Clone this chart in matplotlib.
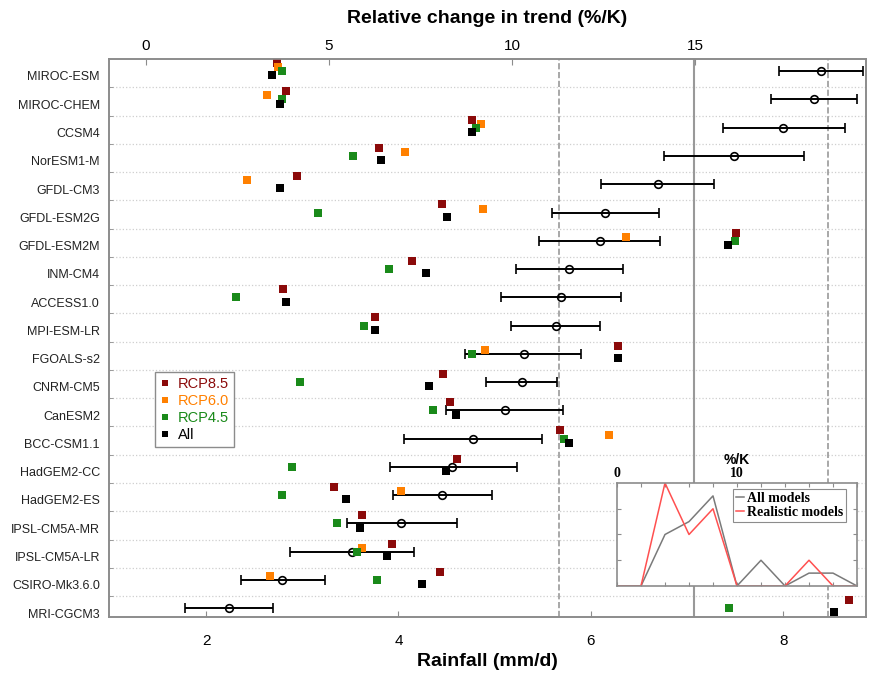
import numpy as np
import matplotlib
matplotlib.use('Agg')
import matplotlib.pyplot as plt
from matplotlib import font_manager

plt.rcParams['font.family'] = ['Liberation Sans', 'DejaVu Sans']

# 모델 이름 (위에서 아래로)
models = ['MIROC-ESM', 'MIROC-CHEM', 'CCSM4', 'NorESM1-M', 'GFDL-CM3',
          'GFDL-ESM2G', 'GFDL-ESM2M', 'INM-CM4', 'ACCESS1.0', 'MPI-ESM-LR',
          'FGOALS-s2', 'CNRM-CM5', 'CanESM2', 'BCC-CSM1.1', 'HadGEM2-CC',
          'HadGEM2-ES', 'IPSL-CM5A-MR', 'IPSL-CM5A-LR', 'CSIRO-Mk3.6.0', 'MRI-CGCM3']

nan = np.nan
# relative change in trend (%/K)
rcp85 = [3.57, 3.83, 8.92, 6.38, 4.13, 8.08, 16.13, 7.26, 3.74, 6.26,
         12.9, 8.11, 8.31, 11.3, 8.51, 5.14, 5.89, 6.71, 8.03, 19.21]
rcp60 = [3.6, 3.32, 9.14, 7.09, 2.75, 9.2, 13.11, nan, nan, nan,
         9.26, nan, nan, 12.64, nan, 6.97, nan, 5.89, 3.39, nan]
rcp45 = [3.72, 3.73, 9.03, 5.66, nan, 4.71, 16.1, 6.65, 2.47, 5.96,
         8.92, 4.21, 7.85, 11.41, 3.98, 3.73, 5.23, 5.77, 6.32, 15.94]
all_rcp = [3.44, 3.66, 8.92, 6.41, 3.67, 8.23, 15.91, 7.65, 3.83, 6.26,
           12.9, 7.74, 8.47, 11.57, 8.21, 5.46, 5.85, 6.58, 7.53, 18.81]

# rainfall (mm/d): mean and range
rain_mean = [8.39, 8.32, 8.00, 7.49, 6.70, 6.15, 6.09, 5.77, 5.69, 5.64,
             5.30, 5.28, 5.11, 4.77, 4.56, 4.45, 4.03, 3.52, 2.79, 2.24]
rain_low = [7.96, 7.87, 7.37, 6.76, 6.11, 5.60, 5.46, 5.22, 5.07, 5.17,
            4.69, 4.91, 4.49, 4.06, 3.91, 3.94, 3.46, 2.87, 2.36, 1.78]
rain_high = [8.83, 8.77, 8.64, 8.22, 7.28, 6.71, 6.72, 6.33, 6.31, 6.10,
             5.90, 5.65, 5.71, 5.49, 5.23, 4.97, 4.61, 4.16, 3.24, 2.70]

# observed rainfall (mean, lower, upper)
obs_mean = 7.07
obs_low = 5.67
obs_high = 8.47

# inset histogram (%/K)
hist_bins = [0, 2, 4, 6, 8, 10, 12, 14, 16, 18, 20]
hist_all = [0, 0, 4, 5, 7, 0, 2, 0, 1, 1, 0]
hist_real = [0, 0, 8, 4, 6, 0, 0, 0, 2, 0, 0]

c85 = '#8b0a0a'
c60 = '#ff8000'
c45 = '#1a8a1a'
spine_c = '#8c8c8c'

# 좁은 글꼴이 있으면 모델 이름에 사용
names = {f.name for f in font_manager.fontManager.ttflist}
label_font = 'Liberation Sans Narrow' if 'Liberation Sans Narrow' in names else 'Liberation Sans'
label_size = 11.5 if label_font == 'Liberation Sans Narrow' else 9

fig = plt.figure(figsize=(8.69, 6.73), dpi=100)
ax = fig.add_axes([0.1254, 0.0832, 0.8711, 0.8291])
ax2 = ax.twiny()

y = np.arange(len(models))

# 격자선 및 관측값 세로선
for b in y[:-1] + 0.5:
    ax.axhline(b, color='#cfcfcf', lw=0.9, ls=':', zorder=0)
ax.axvline(obs_low, color='#999999', lw=1.2, ls='--', zorder=1)
ax.axvline(obs_high, color='#999999', lw=1.2, ls='--', zorder=1)
ax.axvline(obs_mean, color='#999999', lw=1.5, zorder=1)

rm = np.array(rain_mean)
xerr = [rm - np.array(rain_low), np.array(rain_high) - rm]
ax.errorbar(rm, y - 0.07, xerr=xerr, fmt='o', color='k', mfc='none',
            ms=5.5, mew=1.2, elinewidth=1.4, capsize=3.6, capthick=1.4, zorder=3)

ax2.plot(rcp85, y - 0.36, 's', color=c85, ms=6, mew=0, label='RCP8.5')
ax2.plot(rcp60, y - 0.21, 's', color=c60, ms=6, mew=0, label='RCP6.0')
ax2.plot(rcp45, y - 0.07, 's', color=c45, ms=6, mew=0, label='RCP4.5')
ax2.plot(all_rcp, y + 0.08, 's', color='k', ms=6, mew=0, label='All')

ax.set_xlim(0.99, 8.86)
ax2.set_xlim(-1.01, 19.67)
ax.set_ylim(19.24, -0.5)

ax.set_xticks([2, 4, 6, 8])
ax2.set_xticks([0, 5, 10, 15])
ax.set_yticks(y + 0.1)
ax.set_yticklabels(models, fontsize=label_size, family=label_font, color='#222222')
ax.set_yticks(y[:-1] + 0.5, minor=True)
ax.tick_params(axis='y', which='major', length=0, pad=6.5)
ax.tick_params(axis='y', which='minor', direction='in', length=3, color=spine_c)
ax.tick_params(axis='x', direction='in', length=4, color=spine_c, labelsize=11, pad=12)
ax2.tick_params(axis='x', direction='in', length=4, color=spine_c, labelsize=11, pad=4)
ax.xaxis.set_minor_locator(plt.NullLocator())

for a in (ax, ax2):
    for s in a.spines.values():
        s.set_color(spine_c)
        s.set_linewidth(1.2)

ax.set_xlabel('Rainfall (mm/d)', fontsize=14, fontweight='bold', labelpad=4)
ax2.set_xlabel('Relative change in trend (%/K)', fontsize=14, fontweight='bold', labelpad=12)

leg = ax2.legend(loc='upper left', bbox_to_anchor=(0.061, 0.439), borderaxespad=0,
                 fontsize=10.5, handlelength=0.6, handletextpad=0.6, labelspacing=0.2,
                 markerscale=0.75, fancybox=False, framealpha=1, edgecolor=spine_c,
                 borderpad=0.35)
leg.get_frame().set_linewidth(1.0)
for txt, col in zip(leg.get_texts(), [c85, c60, c45, 'k']):
    txt.set_color(col)

# 삽입 그래프 (히스토그램)
axi = fig.add_axes([0.710, 0.1293, 0.2762, 0.1530])
axi.set_facecolor('white')
axi.plot(hist_bins, hist_all, color='#7a7a7a', lw=1.1, label='All models')
axi.plot(hist_bins, hist_real, color='#ff5050', lw=1.1, label='Realistic models')
axi.set_xlim(0, 20)
axi.set_ylim(0, 8)
axi.set_xticks(hist_bins)
axi.set_xticklabels(['0', '', '', '', '', '10', '', '', '', '', ''],
                    family='Liberation Serif', fontweight='bold', fontsize=10)
axi.set_yticks([2, 4, 6])
axi.set_yticklabels([])
axi.xaxis.set_ticks_position('both')
axi.xaxis.set_label_position('top')
axi.tick_params(axis='x', direction='in', length=3, color=spine_c, labeltop=True,
                labelbottom=False, pad=2)
axi.tick_params(axis='y', direction='in', length=3, color=spine_c, left=True, right=True)
axi.set_xlabel('%/K', fontsize=10, fontweight='bold', labelpad=2)
for s in axi.spines.values():
    s.set_color(spine_c)
    s.set_linewidth(1.2)
ileg = axi.legend(loc='upper right', bbox_to_anchor=(0.954, 0.942), borderaxespad=0,
                  prop={'family': 'Liberation Serif', 'weight': 'bold', 'size': 10},
                  handlelength=0.6, handletextpad=0.2, labelspacing=0.1, borderpad=0.2,
                  fancybox=False, framealpha=1, edgecolor=spine_c)
ileg.get_frame().set_linewidth(0.8)

fig.savefig('out.png', dpi=100)
